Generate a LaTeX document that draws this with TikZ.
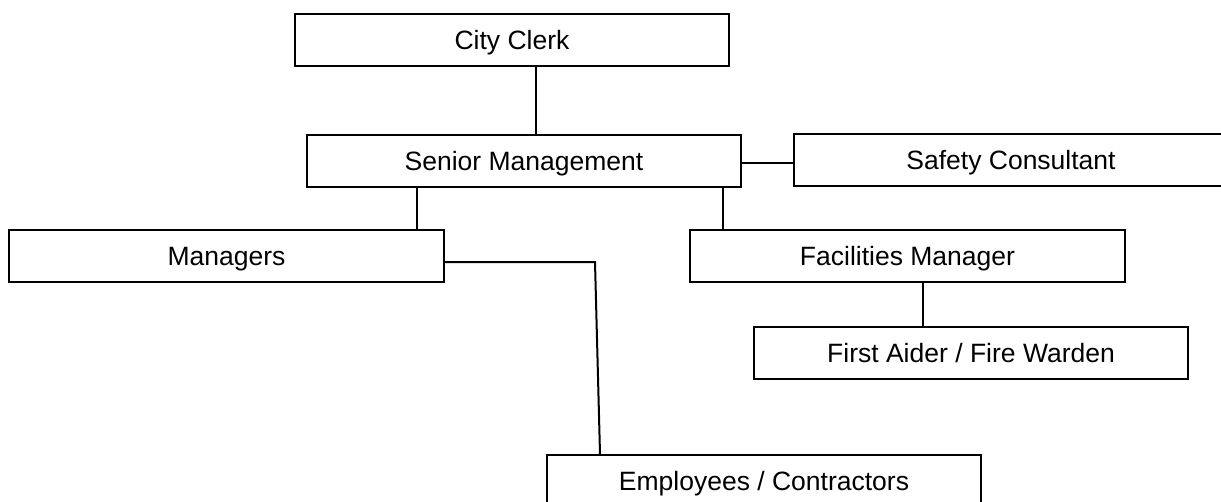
\documentclass[tikz,border=0pt]{standalone}
\usepackage{fontspec}
\setmainfont{Liberation Sans}
\begin{document}
\begin{tikzpicture}[x=1pt,y=-1pt,
  box/.style={draw=black,line width=2pt,fill=white,minimum width=434pt,minimum height=52pt,
    inner sep=0pt,text height=19pt,text depth=-1pt,font=\fontsize{26.5}{30}\selectfont,text=black},
  link/.style={draw=black,line width=2pt}]
\useasboundingbox (0,0) rectangle (1221,501);
\clip (0,0) rectangle (1221,501);
\fill[white] (0,0) rectangle (1221,501);
\node[box] (clerk) at (512,40) {City Clerk};
\node[box] (senior) at (524,160.5) {Senior Management};
\node[box] (safety) at (1011,160) {Safety Consultant};
\node[box,minimum width=435pt] (managers) at (226.5,256) {Managers};
\node[box,minimum width=435pt] (facilities) at (907.5,256) {Facilities Manager};
\node[box] (first) at (971,352.5) {First Aider / Fire Warden};
\node[box] (employees) at (764,481) {Employees / Contractors};
\coordinate (xa) at (536,0);
\coordinate (xb) at (417,0);
\coordinate (xc) at (723,0);
\coordinate (xd) at (923,0);
\coordinate (ys) at (0,163);
\coordinate (ym) at (0,262);
\coordinate (bend) at (595,262);
\coordinate (xe) at (600,0);
\draw[link] (xa |- clerk.south) -- (xa |- senior.north);
\draw[link] (senior.east |- ys) -- (safety.west |- ys);
\draw[link] (xb |- senior.south) -- (xb |- managers.north);
\draw[link] (xc |- senior.south) -- (xc |- facilities.north);
\draw[link] (xd |- facilities.south) -- (xd |- first.north);
\draw[link] (managers.east |- ym) -- (bend) -- (xe |- employees.north);
\end{tikzpicture}
\end{document}
